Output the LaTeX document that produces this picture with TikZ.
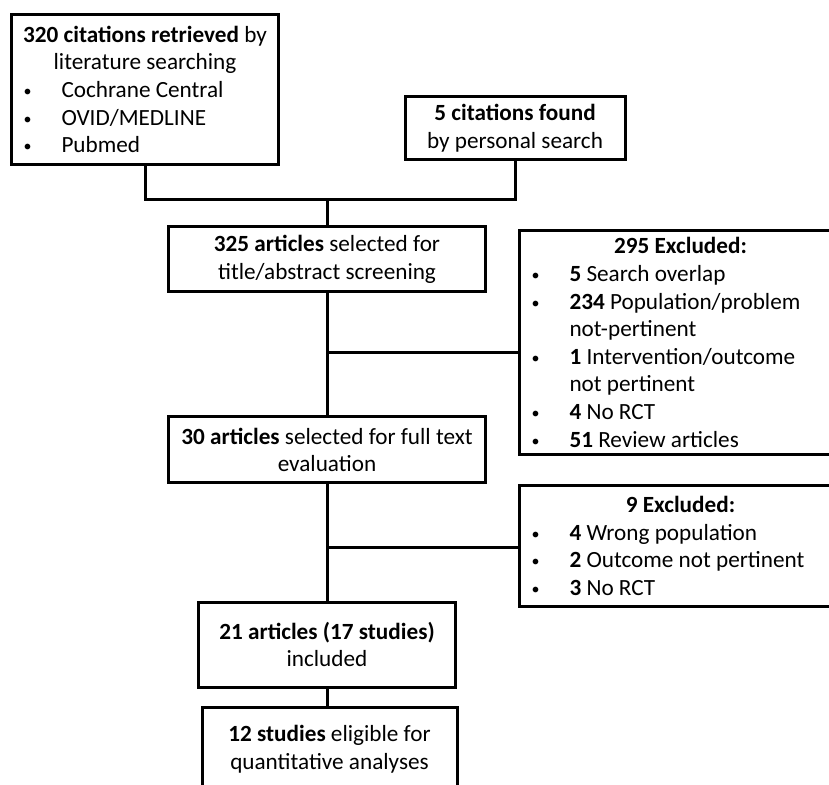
\documentclass[tikz,border=0pt]{standalone}
\usepackage{fontspec}
\setmainfont{Carlito}
\usetikzlibrary{positioning,calc}
\newcommand{\itm}[1]{\hspace*{2pt}\makebox[19pt][l]{\raisebox{0.5pt}{\fontsize{8}{8}\selectfont\textbullet}}#1}
\newcommand{\cont}[1]{\hspace*{21pt}#1}
\newcommand{\ctr}[1]{\makebox[\hsize]{#1}}

\begin{document}
\begin{tikzpicture}[
    x=0.5pt, y=-0.5pt,
    box/.style={draw=black, line width=1.5pt, fill=white, inner xsep=4pt, inner ysep=1pt, font=\fontsize{11.6}{13.8}\selectfont},
    stage/.style={box, align=center},
    list/.style={box, align=flush left, anchor=north west},
    link/.style={line width=1.5pt}
]
\useasboundingbox (0,0) rectangle (829,785);
\clip (0,0) rectangle (829,785);

\node[list, text width=125.5pt, minimum height=75pt] (cite) at (10,13) {\ctr{\textbf{320 citations retrieved} by}\\ \ctr{literature searching}\\ \itm{Cochrane Central}\\ \itm{OVID/MEDLINE}\\ \itm{Pubmed}};
\node[stage, minimum width=110pt, minimum height=31.5pt] (pers) at (515,128.5) {\textbf{5 citations found}\\by personal search};

\node[stage, minimum width=158.5pt, minimum height=32.5pt] (screen) at (327,259.5) {\textbf{325 articles} selected for\\title/abstract screening};
\node[list, text width=153pt, minimum height=112pt] (excl1) at (518,229) {\ctr{\textbf{295 Excluded:}}\\ \itm{\textbf{5} Search overlap}\\ \itm{\textbf{234} Population/problem}\\ \cont{not-pertinent}\\ \itm{\textbf{1} Intervention/outcome}\\ \cont{not pertinent}\\ \itm{\textbf{4} No RCT}\\ \itm{\textbf{51} Review articles}};

\node[stage, minimum width=158.5pt, minimum height=33pt] (full) at (327,450) {\textbf{30 articles} selected for full text\\evaluation};
\node[list, text width=153pt, minimum height=60.5pt] (excl2) at (518,484) {\ctr{\textbf{9 Excluded:}}\\ \itm{\textbf{4} Wrong population}\\ \itm{\textbf{2} Outcome not pertinent}\\ \itm{\textbf{3} No RCT}};

\node[stage, minimum width=128.5pt, minimum height=42.5pt] (incl) at (327,644.5) {\textbf{21 articles (17 studies)}\\included};
\node[stage, minimum width=127.5pt, minimum height=42pt] (quant) at (329.5,749) {\textbf{12 studies} eligible for\\quantitative analyses};

% connectors
\coordinate (merge) at (327,200);
\coordinate (j1) at (327,353);
\coordinate (j2) at (327,547);
\draw[link] (cite.south) |- (merge);
\draw[link] (pers.south) |- (merge);
\draw[link] (merge) -- (screen.north);
\draw[link] (screen) -- (full);
\draw[link] (j1) -- (j1 -| excl1.west);
\draw[link] (full) -- (incl);
\draw[link] (j2) -- (j2 -| excl2.west);
\draw[link] (incl.south) -- (incl.south |- quant.north);
\end{tikzpicture}
\end{document}
